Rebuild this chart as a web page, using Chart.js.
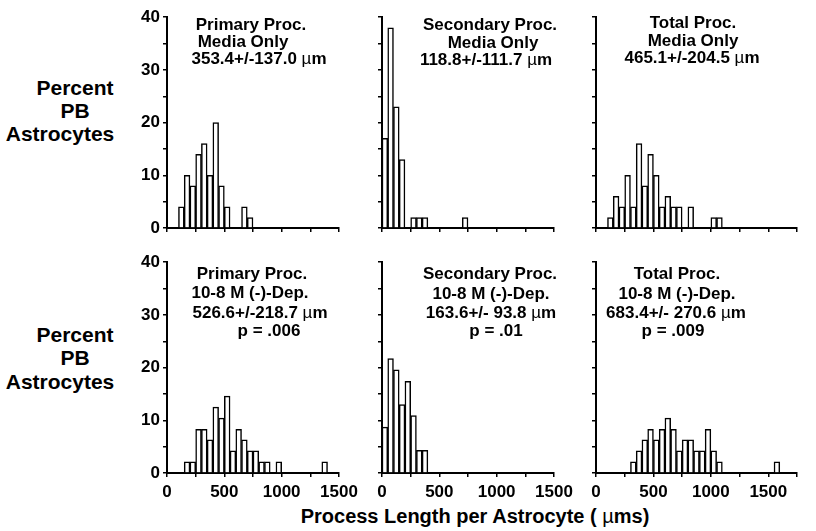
<!DOCTYPE html>
<html><head><meta charset="utf-8">
<script src="https://cdn.jsdelivr.net/npm/chart.js@4"></script>
<style>
html,body{margin:0;padding:0;background:#fff;}
#wrap{position:relative;width:816px;height:531px;overflow:hidden;background:#fff;font-family:"Liberation Sans",Arial,sans-serif;}
canvas{position:absolute;}
.t{position:absolute;white-space:nowrap;font-weight:bold;color:#000;transform:translateX(-50%);line-height:1;}
.mu{font-weight:normal;}
</style></head><body><div id="wrap"></div>
<script>
// Histogram bins: width 50 µm, first bin starts at 0
const BIN = 50;
const primaryMedia   = [0,0,4,10,8,14,16,10,20,8,4,0,0,4,2];
const secondaryMedia = [17,38,23,13,0,2,2,2,0,0,0,0,0,0,2];
const totalMedia     = [0,0,2,6,4,10,4,16,8,14,10,4,6,4,4,0,4,0,0,0,2,2];
const primaryDep     = [0,0,0,2.1,2.1,8.3,8.3,6.3,12.5,10.4,14.6,4.2,8.3,6.3,4.2,4.2,2.1,2.1,0,2.1,0,0,0,0,0,0,0,2.1];
const secondaryDep   = [8.7,21.7,19.6,13.0,17.4,10.9,4.3,4.3];
const totalDep       = [0,0,0,0,0,0,2.1,4.2,6.3,8.3,6.3,8.3,10.4,8.3,4.2,6.3,6.3,4.2,4.2,8.3,4.2,2.1,0,0,0,0,0,0,0,0,0,2.1];

const xTickLabels = [0, 500, 1000, 1500];
const yTickLabels = [0, 10, 20, 30, 40];

const panelTitles = [
  ["Primary Proc.", "Media Only", "353.4+/-137.0 |µm"],
  ["Secondary Proc.", "Media Only", "118.8+/-111.7 |µm"],
  ["Total Proc.", "Media Only", "465.1+/-204.5 |µm"],
  ["Primary Proc.", "10-8 M (-)-Dep.", "526.6+/-218.7 |µm", "p = .006"],
  ["Secondary Proc.", "10-8 M (-)-Dep.", "163.6+/- 93.8 |µm", "p = .01"],
  ["Total Proc.", "10-8 M (-)-Dep.", "683.4+/- 270.6 |µm", "p = .009"]
];
const yTitleLines = ["Percent", "PB", "Astrocytes"];
const xTitle = "Process Length per Astrocyte ( |µms)";

// layout
const cols = [{left:167, w:172, max:1500},{left:382, w:172, max:1500},{left:596, w:201, max:1750}];
const rows = [{top:16, bottom:228},{top:261, bottom:473}];
const series = [primaryMedia, secondaryMedia, totalMedia, primaryDep, secondaryDep, totalDep];
const YW = 50, XH = 32, PT = 12, PR = 26;
const wrap = document.getElementById('wrap');
const FONT = '"Liberation Sans", Arial, sans-serif';

function addText(str, cx, baseline, fs){
  const d = document.createElement('div');
  d.className = 't';
  d.style.fontSize = fs + 'px';
  d.style.left = cx + 'px';
  d.style.top = (baseline - 0.8465*fs) + 'px';
  const parts = str.split('|');
  d.appendChild(document.createTextNode(parts[0]));
  if (parts.length > 1) {
    const s = document.createElement('span');
    s.className = 'mu';
    s.textContent = parts[1].charAt(0);
    d.appendChild(s);
    d.appendChild(document.createTextNode(parts[1].slice(1)));
  }
  wrap.appendChild(d);
}

series.forEach((counts, p) => {
  const row = rows[Math.floor(p/3)], col = cols[p%3];
  const showX = Math.floor(p/3) === 1, showY = p%3 === 0;
  const cv = document.createElement('canvas');
  const W = YW + col.w + PR, H = PT + (row.bottom - row.top) + XH;
  cv.width = W; cv.height = H;
  cv.style.width = W + 'px'; cv.style.height = H + 'px';
  cv.style.left = (col.left - YW) + 'px';
  cv.style.top = (row.top - PT) + 'px';
  wrap.appendChild(cv);
  const pts = counts.map((y, i) => ({x: i*BIN + BIN/2, y})).filter(d => d.y > 0);
  new Chart(cv, {
    type: 'bar',
    data: {datasets: [{data: pts, backgroundColor: '#fff', borderColor: '#000', borderWidth: 1.5,
      barPercentage: 1, categoryPercentage: 1}]},
    options: {
      animation: false, responsive: false, devicePixelRatio: 1,
      plugins: {legend: {display: false}, tooltip: {enabled: false}},
      layout: {padding: {left: 0, right: PR, top: PT, bottom: 0}},
      scales: {
        x: {type: 'linear', min: 0, max: col.max, offset: false,
          grid: {offset: false, drawOnChartArea: false, drawTicks: true, tickLength: 4, color: '#000', lineWidth: 1.5},
          border: {color: '#000', width: 2},
          ticks: {stepSize: 250, autoSkip: false, maxRotation: 0, padding: 5, color: '#000',
            font: {family: FONT, size: 17, weight: 'bold'},
            callback: v => (showX && xTickLabels.includes(v)) ? String(v) : ''},
          afterFit: s => { s.height = XH; }
        },
        y: {min: 0, max: 40,
          grid: {drawOnChartArea: false, drawTicks: true, tickLength: 4, color: '#000', lineWidth: 1.5},
          border: {color: '#000', width: 2},
          ticks: {stepSize: 5, autoSkip: false, padding: 3, color: '#000',
            font: {family: FONT, size: 17, weight: 'bold'},
            callback: v => (showY && yTickLabels.includes(v)) ? String(v) : ''},
          afterFit: s => { s.width = YW; }
        }
      }
    }
  });
});

// panel annotations: [text, centerX, baseline]
const titlePos = [
  [[251,30],[243,47],[259,64]],
  [[490,30],[493,48],[486,65]],
  [[693,28],[693,46],[692,63]],
  [[252,279],[250,298],[260,318],[269,336]],
  [[490,279],[491,299],[491,318],[496,336]],
  [[677,279],[677,299],[676,318],[673,336]]
];
panelTitles.forEach((lines, p) => lines.forEach((s, i) => addText(s, titlePos[p][i][0], titlePos[p][i][1], 17)));

// y titles
[[75,95],[75,118],[60,141]].forEach((pos,i) => addText(yTitleLines[i], pos[0], pos[1], 21));
[[75,342],[75,365],[60,389]].forEach((pos,i) => addText(yTitleLines[i], pos[0], pos[1], 21));
addText(xTitle, 475, 523, 20);
</script></body></html>
